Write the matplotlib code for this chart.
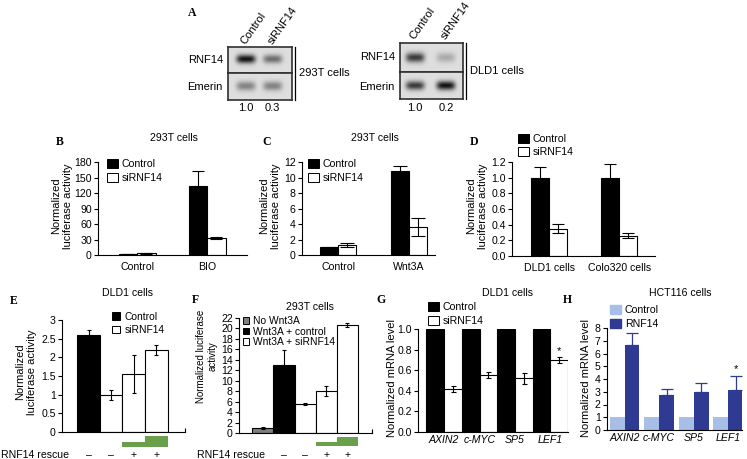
import numpy as np
import matplotlib.pyplot as plt
from matplotlib.patches import Patch
from matplotlib.lines import Line2D
import matplotlib.transforms as mtransforms

plt.rcParams['font.family'] = ['Liberation Sans', 'DejaVu Sans']
plt.rcParams['font.size'] = 7.6
plt.rcParams['axes.linewidth'] = 0.8

W, H = 747, 459

# A: western blots (relative band strength)
lanes = ['Control', 'siRNF14']
blot_293t_rnf14 = [1.0, 0.55]
blot_293t_emerin = [0.45, 0.45]
ratio_293t = ['1.0', '0.3']
blot_dld1_rnf14 = [0.8, 0.25]
blot_dld1_emerin = [0.8, 1.0]
ratio_dld1 = ['1.0', '0.2']

# B
b_groups = ['Control', 'BIO']
b_ctrl = [1.5, 133]
b_ctrl_err = [0.5, 30]
b_si = [3, 33]
b_si_err = [1, 2]

# C
c_groups = ['Control', 'Wnt3A']
c_ctrl = [1.0, 10.8]
c_ctrl_err = [0.05, 0.7]
c_si = [1.3, 3.6]
c_si_err = [0.3, 1.2]

# D
d_groups = ['DLD1 cells', 'Colo320 cells']
d_ctrl = [1.0, 1.0]
d_ctrl_err = [0.14, 0.18]
d_si = [0.35, 0.26]
d_si_err = [0.06, 0.03]

# E
e_vals = [2.6, 1.0, 1.55, 2.2]
e_err = [0.13, 0.13, 0.5, 0.13]
e_rescue = ['–', '–', '+', '+']
e_rescue_level = [0, 0, 0.47, 1.0]

# F
f_vals = [1.0, 13.0, 5.6, 8.0, 20.6]
f_err = [0.15, 2.8, 0.2, 0.9, 0.4]
f_rescue = ['', '–', '–', '+', '+']
f_rescue_level = [0, 0, 0, 0.45, 1.0]

# G, H
genes = ['AXIN2', 'c-MYC', 'SP5', 'LEF1']
g_ctrl = [1.0, 1.0, 1.0, 1.0]
g_si = [0.42, 0.55, 0.52, 0.70]
g_si_err = [0.03, 0.03, 0.05, 0.03]
h_ctrl = [1.0, 1.0, 1.0, 1.0]
h_rnf = [6.7, 2.75, 2.95, 3.15]
h_rnf_err = [0.9, 0.45, 0.7, 1.05]

GREEN = '#6a9f4b'
LBLUE = '#a7bfe6'
DBLUE = '#2f3a92'

fig = plt.figure(figsize=(W / 100, H / 100), dpi=100)


def box(x0, y0, x1, y1):
    return fig.add_axes([x0 / W, 1 - y1 / H, (x1 - x0) / W, (y1 - y0) / H])


def ftext(x, y, s, **kw):
    fig.text(x / W, 1 - y / H, s, **kw)


def vline(x, y0, y1):
    fig.add_artist(Line2D([x / W, x / W], [1 - y0 / H, 1 - y1 / H], color='black', lw=0.9))


def panel(x, y, s):
    ftext(x, y, s, family='Liberation Serif', weight='bold', fontsize=8.5, va='center', ha='left')


def style(ax):
    ax.spines['top'].set_visible(False)
    ax.spines['right'].set_visible(False)
    ax.tick_params(axis='y', direction='out', length=3, width=0.8, pad=1.5)
    ax.tick_params(axis='x', length=0, pad=5)


def legend(ax, handles, labels, x, y, hl=1.0, fs=7.6, sp=0.35):
    ax.legend(handles, labels, loc='upper left', bbox_to_anchor=(x / W, 1 - y / H),
              bbox_transform=fig.transFigure, frameon=False, borderpad=0, borderaxespad=0,
              handlelength=hl, handleheight=hl, handletextpad=0.4, labelspacing=sp, fontsize=fs)


def sq(fc):
    return Patch(facecolor=fc, edgecolor='black', lw=0.7)


def blot(ax, strength, centers):
    yy, xx = np.mgrid[0:1:40j, 0:1:160j]
    img = np.full(xx.shape, 0.87)
    for s, c in zip(strength, centers):
        img -= 0.8 * s * np.exp(-((xx - c) / 0.15) ** 4 - ((yy - 0.5) / 0.17) ** 2)
    ax.imshow(img, cmap='gray', vmin=0, vmax=1, aspect='auto', extent=(0, 1, 0, 1),
              interpolation='bilinear')
    ax.set_xticks([])
    ax.set_yticks([])
    for sp in ax.spines.values():
        sp.set_linewidth(1.2)
        sp.set_color('#303030')


def pair_panel(ax, groups, v1, e1, v2, e2, w, cap):
    x = np.arange(len(groups))
    kw = dict(width=w, edgecolor='black', lw=0.8, ecolor='black',
              error_kw=dict(elinewidth=0.8, capthick=0.8, capsize=cap))
    ax.bar(x - w / 2, v1, yerr=e1, color='black', **kw)
    ax.bar(x + w / 2, v2, yerr=e2, color='white', **kw)
    ax.set_xticks(x)
    ax.set_xticklabels(groups)
    style(ax)


# ---------------- A ----------------
panel(188, 13, 'A')
for (bx0, bx1, ytop, ymid, ybot, rn, em, ratio, cen, cell, ly) in [
        (228, 292, 47, 72.5, 100, blot_293t_rnf14, blot_293t_emerin, ratio_293t, (0.28, 0.70), '293T cells', 43),
        (400, 463, 43, 72, 99, blot_dld1_rnf14, blot_dld1_emerin, ratio_dld1, (0.24, 0.73), 'DLD1 cells', 38)]:
    blot(box(bx0, ytop, bx1, ymid), rn, cen)
    blot(box(bx0, ymid, bx1, ybot), em, cen)
    ftext(bx0 - 5, (ytop + ymid) / 2, 'RNF14', ha='right', va='center', fontsize=8)
    ftext(bx0 - 5, (ymid + ybot) / 2 + 1, 'Emerin', ha='right', va='center', fontsize=8)
    vline(bx1 + 3, ytop, ybot)
    ftext(bx1 + 7, (ytop + ybot) / 2, cell, ha='left', va='center', fontsize=8)
    for c, lab, r in zip(cen, lanes, ratio):
        xc = bx0 + c * (bx1 - bx0)
        ftext(xc, 108, r, ha='center', va='center', fontsize=8)
        ftext(xc - 3, ly, lab, ha='left', va='center', rotation=55, rotation_mode='anchor', fontsize=8)

# ---------------- B ----------------
ax = box(98, 162, 247, 255)
pair_panel(ax, b_groups, b_ctrl, b_ctrl_err, b_si, b_si_err, 0.265, 4)
ax.set_ylim(0, 180)
ax.set_yticks(np.arange(0, 181, 30))
ax.set_xlim(-0.56, 1.57)
legend(ax, [sq('black'), sq('white')], ['Control', 'siRNF14'], 107, 159)
panel(56, 142, 'B')
ftext(174, 138, '293T cells', ha='center', va='center')
ftext(62, 206, 'Normalized\nluciferase activity', rotation=90, ha='center', va='center',
      fontsize=8, linespacing=1.15)

# ---------------- C ----------------
ax = box(302, 162, 435, 255)
pair_panel(ax, c_groups, c_ctrl, c_ctrl_err, c_si, c_si_err, 0.25, 5)
ax.set_ylim(0, 12)
ax.set_yticks(np.arange(0, 13, 2))
ax.set_xlim(-0.51, 1.37)
legend(ax, [sq('black'), sq('white')], ['Control', 'siRNF14'], 308, 159)
panel(262, 142, 'C')
ftext(375, 138, '293T cells', ha='center', va='center')
ftext(270, 206, 'Normalized\nluciferase activity', rotation=90, ha='center', va='center',
      fontsize=8, linespacing=1.15)

# ---------------- D ----------------
ax = box(512, 162, 655, 256)
pair_panel(ax, d_groups, d_ctrl, d_ctrl_err, d_si, d_si_err, 0.26, 4)
ax.set_ylim(0, 1.2)
ax.set_yticks(np.arange(0, 1.21, 0.2))
ax.yaxis.set_major_formatter(plt.FormatStrFormatter('%.1f'))
ax.set_xlim(-0.53, 1.51)
legend(ax, [sq('black'), sq('white')], ['Control', 'siRNF14'], 518, 134, sp=0.25)
panel(470, 142, 'D')
ftext(477, 206, 'Normalized\nluciferase activity', rotation=90, ha='center', va='center',
      fontsize=8, linespacing=1.15)


# ---------------- E / F (rescue) ----------------
def rescue_panel(ax0, rbox, vals, err, colors, cap, levels, signs, xlim, label_x):
    x = np.arange(len(vals))
    ax0.bar(x, vals, yerr=err, width=1.0, color=colors, edgecolor='black', lw=0.8,
            error_kw=dict(elinewidth=0.8, capthick=0.8, capsize=cap, ecolor='black'))
    ax0.set_xlim(*xlim)
    style(ax0)
    ax0.set_xticks([xlim[1]])
    ax0.set_xticklabels([''])
    ax0.tick_params(axis='x', direction='in', length=3)
    axr = box(*rbox)
    axr.bar(x, levels, width=1.0, color=GREEN, lw=0)
    axr.set_xlim(*xlim)
    axr.set_ylim(0, 1)
    axr.axis('off')
    tr = mtransforms.blended_transform_factory(axr.transData, fig.transFigure)
    for xi, s in zip(x, signs):
        axr.text(xi, 1 - 455 / H, s, transform=tr, ha='center', va='center', fontsize=7.6)
    ftext(label_x, 455, 'RNF14 rescue', ha='left', va='center', fontsize=7.6)


ax = box(62, 320, 185, 432)
rescue_panel(ax, (62, 436, 185, 447), e_vals, e_err, ['black', 'white', 'white', 'white'], 1.5,
             e_rescue_level, e_rescue, (-1.17, 4.26), 1)
ax.set_ylim(0, 3)
ax.set_yticks(np.arange(0, 3.01, 0.5))
ax.set_yticklabels(['0', '0.5', '1', '1.5', '2', '2.5', '3'])
legend(ax, [sq('black'), sq('white')], ['Control', 'siRNF14'], 112, 312, hl=0.8, fs=7.4, sp=0.3)
panel(10, 301, 'E')
ftext(127, 293, 'DLD1 cells', ha='center', va='center')
ftext(26, 372, 'Normalized\nluciferase activity', rotation=90, ha='center', va='center',
      fontsize=8, linespacing=1.15)

ax = box(239, 318, 372, 433)
rescue_panel(ax, (239, 437, 372, 446), f_vals, f_err, ['#7f7f7f', 'black', 'white', 'white', 'white'],
             1.5, f_rescue_level, f_rescue, (-1.13, 5.16), 197)
ax.set_ylim(0, 22)
ax.set_yticks(np.arange(0, 23, 2))
legend(ax, [sq('#7f7f7f'), sq('black'), sq('white')],
       ['No Wnt3A', 'Wnt3A + control', 'Wnt3A + siRNF14'], 243, 316, hl=0.6, fs=7.4, sp=0.05)
panel(192, 300, 'F')
ftext(310, 307, '293T cells', ha='center', va='center')
ftext(207, 356, 'Normalized luciferase\nactivity', rotation=90, ha='center', va='center',
      fontsize=7, linespacing=1.15)

# ---------------- G ----------------
ax = box(418, 329, 568, 432)
x = np.arange(len(genes))
ax.bar(x - 0.25, g_ctrl, width=0.5, color='black', edgecolor='black', lw=0.8)
ax.bar(x + 0.25, g_si, yerr=g_si_err, width=0.5, color='white', edgecolor='black', lw=0.8,
       error_kw=dict(elinewidth=0.8, capthick=0.8, capsize=1.8, ecolor='black'))
ax.set_xlim(-0.74, 3.5)
ax.set_ylim(0, 1.0)
ax.set_yticks(np.arange(0, 1.01, 0.2))
ax.yaxis.set_major_formatter(plt.FormatStrFormatter('%.1f'))
ax.set_xticks(x)
ax.set_xticklabels(genes, style='italic')
style(ax)
ax.tick_params(axis='x', pad=2)
ax.text(3.25, g_si[3] + g_si_err[3] + 0.06, '*', ha='center', va='center', fontsize=8)
legend(ax, [sq('black'), sq('white')], ['Control', 'siRNF14'], 428, 302, sp=0.3)
panel(376, 300, 'G')
ftext(508, 293, 'DLD1 cells', ha='center', va='center')
ftext(392, 378, 'Normalized mRNA level', rotation=90, ha='center', va='center', fontsize=8)

# ---------------- H ----------------
ax = box(607, 328, 742, 430)
w = 0.43
ax.bar(x - w / 2, h_ctrl, width=w, color=LBLUE, lw=0)
ax.bar(x + w / 2, h_rnf, yerr=[np.zeros(4), h_rnf_err], width=w, color=DBLUE, lw=0,
       error_kw=dict(elinewidth=0.9, capthick=0.9, capsize=4.5, ecolor=DBLUE))
ax.set_xlim(-0.51, 3.4)
ax.set_ylim(0, 8)
ax.set_yticks(np.arange(0, 9, 1))
ax.set_xticks(x)
ax.set_xticklabels(genes, style='italic')
style(ax)
ax.tick_params(axis='x', pad=2)
ax.text(3 + w / 2, h_rnf[3] + h_rnf_err[3] + 0.55, '*', ha='center', va='center', fontsize=8)
legend(ax, [Patch(color=LBLUE), Patch(color=DBLUE)], ['Control', 'RNF14'], 610, 305, sp=0.3)
panel(563, 300, 'H')
ftext(680, 293, 'HCT116 cells', ha='center', va='center')
ftext(586, 378, 'Normalized mRNA level', rotation=90, ha='center', va='center', fontsize=8)

fig.savefig('out.png', dpi=100)
